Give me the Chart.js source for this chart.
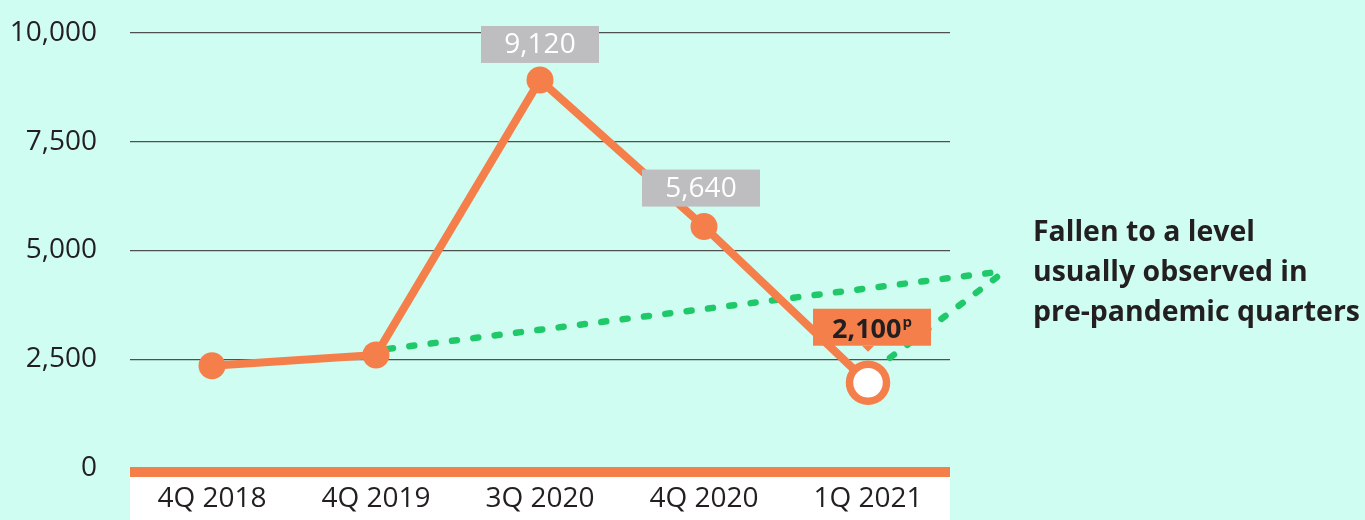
<!DOCTYPE html>
<html>
<head>
<meta charset="utf-8">
<script src="https://cdn.jsdelivr.net/npm/chart.js@4/dist/chart.umd.min.js"></script>
<style>
html,body{margin:0;padding:0;background:#d0fdf1;}
canvas{display:block;}
</style>
</head>
<body>
<canvas id="c" width="1365" height="520"></canvas>
<script>
const categories = ['4Q 2018', '4Q 2019', '3Q 2020', '4Q 2020', '1Q 2021'];
const values = [2350, 2600, 8920, 5550, 1960];
const valueLabels = [null, null, '9,120', '5,640', '2,100'];
const provisionalMark = 'p';
const yTicks = [0, 2500, 5000, 7500, 10000];
const noteLines = ['Fallen to a level', 'usually observed in', 'pre-pandemic quarters'];

const ORANGE = '#f57f4b';
const GREEN = '#1fc96a';
const GRAY_BOX = '#bebec0';
const TEXT = '#231f20';
const BG = '#d0fdf1';
const FONT = '"Open Sans", "Liberation Sans", sans-serif';

const decor = {
  id: 'decor',
  beforeDraw(chart) {
    const { ctx, chartArea: { left, right, bottom } } = chart;
    ctx.save();
    ctx.fillStyle = BG;
    ctx.fillRect(0, 0, chart.width, chart.height);
    ctx.fillStyle = '#ffffff';
    ctx.fillRect(left, bottom + 9, right - left, chart.height - bottom - 9);
    ctx.restore();
  },
  beforeDatasetsDraw(chart) {
    const { ctx, chartArea: { left, right, bottom } } = chart;
    const meta = chart.getDatasetMeta(0);
    ctx.save();
    ctx.fillStyle = ORANGE;
    ctx.fillRect(left, bottom - 1, right - left, 10);
    const ex = 1005, ey = 271;
    const p1 = meta.data[1], p4 = meta.data[4];
    ctx.strokeStyle = GREEN;
    ctx.lineWidth = 6.5;
    ctx.lineCap = 'round';
    ctx.setLineDash([5, 16.5]);
    ctx.beginPath();
    ctx.moveTo(p1.x + 12, p1.y - 6);
    ctx.lineTo(ex, ey);
    ctx.stroke();
    ctx.beginPath();
    ctx.moveTo(p4.x + 22, p4.y - 25);
    ctx.lineTo(ex, ey);
    ctx.stroke();
    ctx.restore();
  },
  afterDatasetsDraw(chart) {
    const { ctx } = chart;
    const meta = chart.getDatasetMeta(0);
    ctx.save();
    meta.data.forEach((pt, i) => {
      const txt = valueLabels[i];
      if (!txt) return;
      const w = 118, h = 37;
      const last = i === values.length - 1;
      if (!last) {
        const cx = pt.x + (i === 3 ? -3 : 0);
        const bottomY = pt.y - (i === 3 ? 20 : 17);
        ctx.fillStyle = GRAY_BOX;
        ctx.fillRect(cx - w / 2, bottomY - h, w, h);
        ctx.fillStyle = '#ffffff';
        ctx.font = '28px ' + FONT;
        ctx.textAlign = 'center';
        ctx.textBaseline = 'middle';
        ctx.fillText(txt, cx, bottomY - h / 2 + 1);
      } else {
        const cx = pt.x + 4;
        const bottomY = pt.y - 37;
        ctx.fillStyle = ORANGE;
        ctx.fillRect(cx - w / 2, bottomY - h, w, h);
        ctx.beginPath();
        ctx.moveTo(cx - 10, bottomY);
        ctx.lineTo(cx + 2, bottomY);
        ctx.lineTo(cx - 4, bottomY + 6);
        ctx.closePath();
        ctx.fill();
        ctx.fillStyle = TEXT;
        ctx.font = 'bold 27px ' + FONT;
        const mw = ctx.measureText(txt).width;
        ctx.font = 'bold 15px ' + FONT;
        const sw = ctx.measureText(provisionalMark).width;
        const start = cx - (mw + sw + 1) / 2;
        ctx.textAlign = 'left';
        ctx.textBaseline = 'middle';
        ctx.font = 'bold 27px ' + FONT;
        ctx.fillText(txt, start, bottomY - h / 2 + 3);
        ctx.font = 'bold 15px ' + FONT;
        ctx.fillText(provisionalMark, start + mw + 1, bottomY - h / 2 - 5);
      }
    });
    ctx.fillStyle = TEXT;
    ctx.textAlign = 'left';
    ctx.textBaseline = 'middle';
    let size = 30;
    ctx.font = 'bold ' + size + 'px ' + FONT;
    const target = 327;
    size = size * target / ctx.measureText(noteLines[2]).width;
    ctx.font = 'bold ' + size.toFixed(2) + 'px ' + FONT;
    noteLines.forEach((ln, k) => ctx.fillText(ln, 1033, 233 + k * 40));
    ctx.restore();
  }
};

const lastIdx = values.length - 1;
new Chart(document.getElementById('c'), {
  type: 'line',
  data: {
    labels: categories,
    datasets: [{
      data: values,
      borderColor: ORANGE,
      borderWidth: 8,
      tension: 0,
      pointRadius: values.map((v, i) => i === lastIdx ? 18.5 : 13.5),
      pointBackgroundColor: values.map((v, i) => i === lastIdx ? '#ffffff' : ORANGE),
      pointBorderColor: ORANGE,
      pointBorderWidth: values.map((v, i) => i === lastIdx ? 7.5 : 0),
      pointHoverRadius: values.map((v, i) => i === lastIdx ? 18.5 : 13.5)
    }]
  },
  options: {
    responsive: false,
    animation: false,
    events: [],
    layout: { padding: { left: 0, right: 415, top: 33, bottom: 0 } },
    plugins: { legend: { display: false }, tooltip: { enabled: false } },
    scales: {
      x: {
        offset: true,
        grid: { display: false, drawTicks: false },
        border: { display: false },
        ticks: { color: TEXT, font: { family: FONT, size: 28 }, padding: 14, maxRotation: 0 },
        afterFit(s) { s.height = 52; s.paddingLeft = 0; s.paddingRight = 0; }
      },
      y: {
        min: 0, max: 10000,
        afterBuildTicks(s) { s.ticks = yTicks.map(v => ({ value: v })); },
        grid: { color: '#505050', lineWidth: 1.3, drawTicks: false },
        border: { display: false },
        ticks: {
          color: TEXT, font: { family: FONT, size: 28 }, padding: 33,
          callback: v => v.toLocaleString('en-US')
        },
        afterFit(s) { s.width = 130; s.paddingTop = 0; s.paddingBottom = 0; }
      }
    }
  },
  plugins: [decor]
});
</script>
</body>
</html>
